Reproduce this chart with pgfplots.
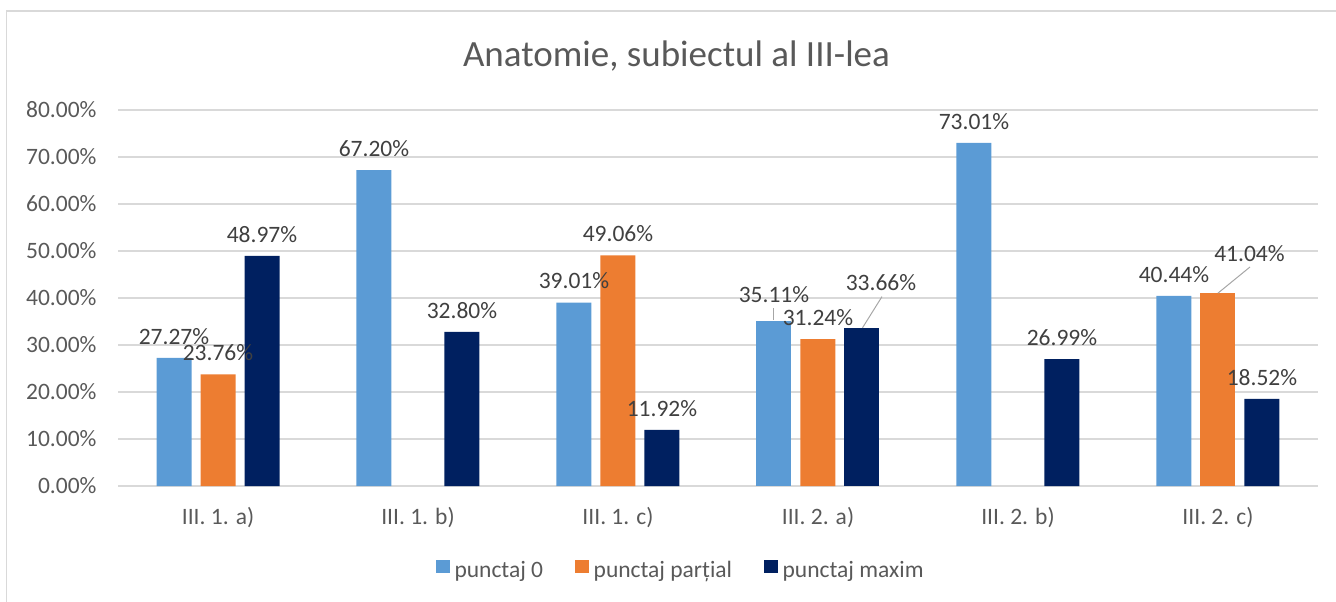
\documentclass[border=0pt]{standalone}
\usepackage{pgfplots}
\pgfplotsset{compat=1.18}
\usepackage{fontspec}
\setmainfont{Carlito}
\definecolor{c0}{HTML}{5B9BD5}
\definecolor{c1}{HTML}{ED7D31}
\definecolor{c2}{HTML}{002060}
\definecolor{tickc}{HTML}{595959}
\definecolor{labc}{HTML}{404040}
\definecolor{gridc}{HTML}{D9D9D9}
\definecolor{leadc}{HTML}{A6A6A6}
\begin{document}
\begin{tikzpicture}[x=1pt,y=1pt]
\useasboundingbox (0,0) rectangle (1336,-602);
\draw[gridc, line width=1.3pt] (6.5,-602) -- (6.5,-11) -- (1336,-11);
\node[text=tickc, font=\fontsize{37}{42}\selectfont, anchor=base, inner sep=0pt] at (676.5,-66.7) {Anatomie, subiectul al III-lea};
\begin{axis}[
  at={(118pt,-486pt)}, anchor=south west,
  width=1200pt, height=376pt, scale only axis,
  xmin=-0.5, xmax=5.5, ymin=0, ymax=80,
  axis line style={draw=none},
  tick style={draw=none},
  ymajorgrids, major grid style={gridc, line width=1.6pt},
  xtick={0,1,2,3,4,5},
  xticklabels={III. 1. a),III. 1. b),III. 1. c),III. 2. a),III. 2. b),III. 2. c)},
  ytick={0,10,20,30,40,50,60,70,80},
  yticklabels={0.00\%,10.00\%,20.00\%,30.00\%,40.00\%,50.00\%,60.00\%,70.00\%,80.00\%},
  tick label style={font=\fontsize{23.5}{28}\selectfont, text=tickc},
  yticklabel style={xshift=-18pt},
  xticklabel style={yshift=-14pt},
  ybar, bar width=0.175,
  /pgf/number format/assume math mode=true,
  point meta=y,
  nodes near coords={\pgfmathprintnumber[fixed,fixed zerofill,precision=2]{\pgfplotspointmeta}\%},
  every node near coord/.append style={font=\fontsize{23.5}{28}\selectfont, text=labc, yshift=10pt},
  legend columns=3,
  legend style={at={(0.469,-0.2234)}, anchor=center, draw=none, fill=none,
    font=\fontsize{23.5}{28}\selectfont, text=tickc,
    /tikz/every even column/.append style={column sep=30pt}},
  legend image code/.code={\fill[#1] (0pt,-3pt) rectangle (13.5pt,10.5pt);},
  legend style={/tikz/every odd column/.append style={column sep=3pt}},
]
% punctaj 0
\addplot[fill=c0, draw=none, bar shift=-0.22] coordinates {(0,27.27) (1,67.20) (2,39.01) (4,73.01) (5,40.44)};
\addlegendentry{punctaj 0}
% punctaj partial
\addplot[fill=c1, draw=none, bar shift=0] coordinates {(0,23.76) (2,49.06) (3,31.24)};
\addlegendentry{punctaj parțial}
% punctaj maxim
\addplot[fill=c2, draw=none, bar shift=0.22] coordinates {(0,48.97) (1,32.80) (2,11.92) (4,26.99) (5,18.52)};
\addlegendentry{punctaj maxim}
% labels moved with leader lines
\addplot[fill=c0, draw=none, bar shift=-0.22, forget plot,
  every node near coord/.append style={yshift=5pt}] coordinates {(3,35.11)};
\addplot[fill=c2, draw=none, bar shift=0.22, forget plot,
  every node near coord/.append style={xshift=19pt, yshift=24pt}] coordinates {(3,33.66)};
\addplot[fill=c1, draw=none, bar shift=0, forget plot,
  every node near coord/.append style={xshift=31.5pt, yshift=18pt}] coordinates {(5,41.04)};
\draw[leadc, line width=1pt] (axis cs:2.78,35.3) -- (axis cs:2.78,37.9);
\draw[leadc, line width=1pt] (axis cs:3.32,40.3) -- (axis cs:3.2225,33.66);
\draw[leadc, line width=1pt] (axis cs:5.16,46.6) -- (axis cs:5.0,41.04);
\end{axis}
\end{tikzpicture}
\end{document}
